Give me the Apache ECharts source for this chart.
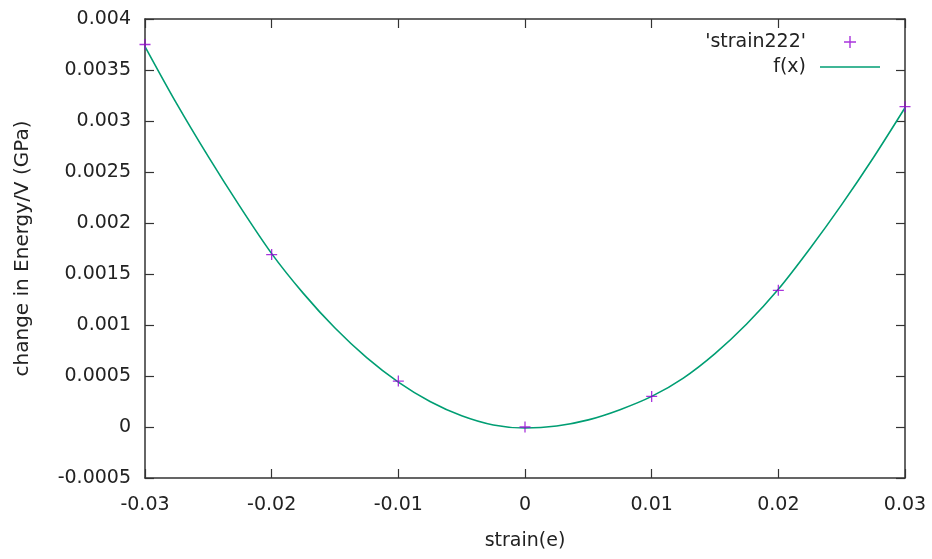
<!DOCTYPE html>
<html>
<head>
<meta charset="utf-8">
<script src="https://cdn.jsdelivr.net/npm/echarts@6/dist/echarts.min.js"></script>
<style>html,body{margin:0;padding:0;background:#fff;}#c{width:932px;height:559px;}</style>
</head>
<body>
<div id="c"></div>
<script>
// measured points
const strainX = [-0.03, -0.02, -0.01, 0, 0.01, 0.02, 0.03];
const energyY = [0.00375, 0.00169, 0.00045, 0.0, 0.00030, 0.00134, 0.00314];
// fit curve f(x)
const fitX = [-0.03, -0.0275, -0.025, -0.0225, -0.02, -0.0175, -0.015, -0.0125, -0.01, -0.0075, -0.005, -0.0025,
              0, 0.0025, 0.005, 0.0075, 0.01, 0.0125, 0.015, 0.0175, 0.02, 0.0225, 0.025, 0.0275, 0.03];
const fitY = [0.00373, 0.00317, 0.00265, 0.00216, 0.00170, 0.00131, 0.00097, 0.00068, 0.00044, 0.00025, 0.00011, 0.00002,
              -0.00001, 0.00001, 0.00007, 0.00017, 0.00030, 0.00048, 0.00072, 0.00101, 0.00135, 0.00175, 0.00218, 0.00264, 0.00313];
// axis ticks
const xTicks = { min: -0.03, max: 0.03, step: 0.01 };
const yTicks = { min: -0.0005, max: 0.004, step: 0.0005 };
const seriesNames = ["'strain222'", "f(x)"];

const FONT = 'DejaVu Sans';
const FS = 19;
const AX = '#333';
const LINE = '#009e73';
const fmt = (v, d) => String(parseFloat(v.toFixed(d)));
const plus = 'path://M5.3,0H6.7V5.3H12V6.7H6.7V12H5.3V6.7H0V5.3H5.3Z';
const bar = 'path://M0,0H60V1.6H0Z';

const chart = echarts.init(document.getElementById('c'));
const axisCommon = {
  type: 'value',
  axisLine: { show: true, onZero: false, lineStyle: { color: AX, width: 1.5 } },
  axisTick: { show: true, inside: true, length: 9, lineStyle: { color: AX, width: 1.2 } },
  splitLine: { show: false }
};
chart.setOption({
  backgroundColor: '#fff',
  animation: false,
  grid: { left: 145, right: 27, top: 19, bottom: 81 },
  xAxis: [
    Object.assign({}, axisCommon, {
      position: 'bottom', min: xTicks.min, max: xTicks.max, interval: xTicks.step,
      name: 'strain(e)', nameLocation: 'middle', nameGap: 54,
      nameTextStyle: { fontFamily: FONT, fontSize: FS, color: '#222' },
      axisLabel: { margin: 18, fontFamily: FONT, fontSize: FS, color: '#222', formatter: v => fmt(v, 2) }
    }),
    Object.assign({}, axisCommon, {
      position: 'top', min: xTicks.min, max: xTicks.max, interval: xTicks.step,
      axisLabel: { show: false }
    })
  ],
  yAxis: [
    Object.assign({}, axisCommon, {
      position: 'left', min: yTicks.min, max: yTicks.max, interval: yTicks.step,
      name: 'change in Energy/V (GPa)', nameLocation: 'middle', nameGap: 112,
      nameTextStyle: { fontFamily: FONT, fontSize: 20, color: '#222' },
      axisLabel: { margin: 14, fontFamily: FONT, fontSize: FS, color: '#222', formatter: v => fmt(v, 4) }
    }),
    Object.assign({}, axisCommon, {
      position: 'right', min: yTicks.min, max: yTicks.max, interval: yTicks.step,
      axisLabel: { show: false }
    })
  ],
  legend: [
    {
      data: [{ name: seriesNames[0], icon: plus }],
      orient: 'vertical', align: 'right', right: 76, top: 32, padding: 0,
      itemWidth: 12, itemHeight: 12, selectedMode: false,
      textStyle: { fontFamily: FONT, fontSize: FS, color: '#222', lineHeight: 20, padding: [0, 33, 0, 0] }
    },
    {
      data: [{ name: seriesNames[1], icon: bar, itemStyle: { color: LINE } }],
      orient: 'vertical', align: 'right', right: 52, top: 57, padding: 0,
      itemWidth: 60, itemHeight: 14, selectedMode: false,
      textStyle: { fontFamily: FONT, fontSize: FS, color: '#222', lineHeight: 20, padding: [0, 9, 0, 0] }
    }
  ],
  series: [
    {
      name: seriesNames[1], type: 'line', smooth: 0.3, symbol: 'none',
      data: fitX.map((x, i) => [x, fitY[i]]),
      lineStyle: { color: LINE, width: 1.6 }, itemStyle: { color: LINE }, z: 2
    },
    {
      name: seriesNames[0], type: 'scatter', symbol: plus, symbolSize: 11,
      data: strainX.map((x, i) => [x, energyY[i]]),
      itemStyle: { color: '#9400d3' }, z: 3
    }
  ]
});
</script>
</body>
</html>
